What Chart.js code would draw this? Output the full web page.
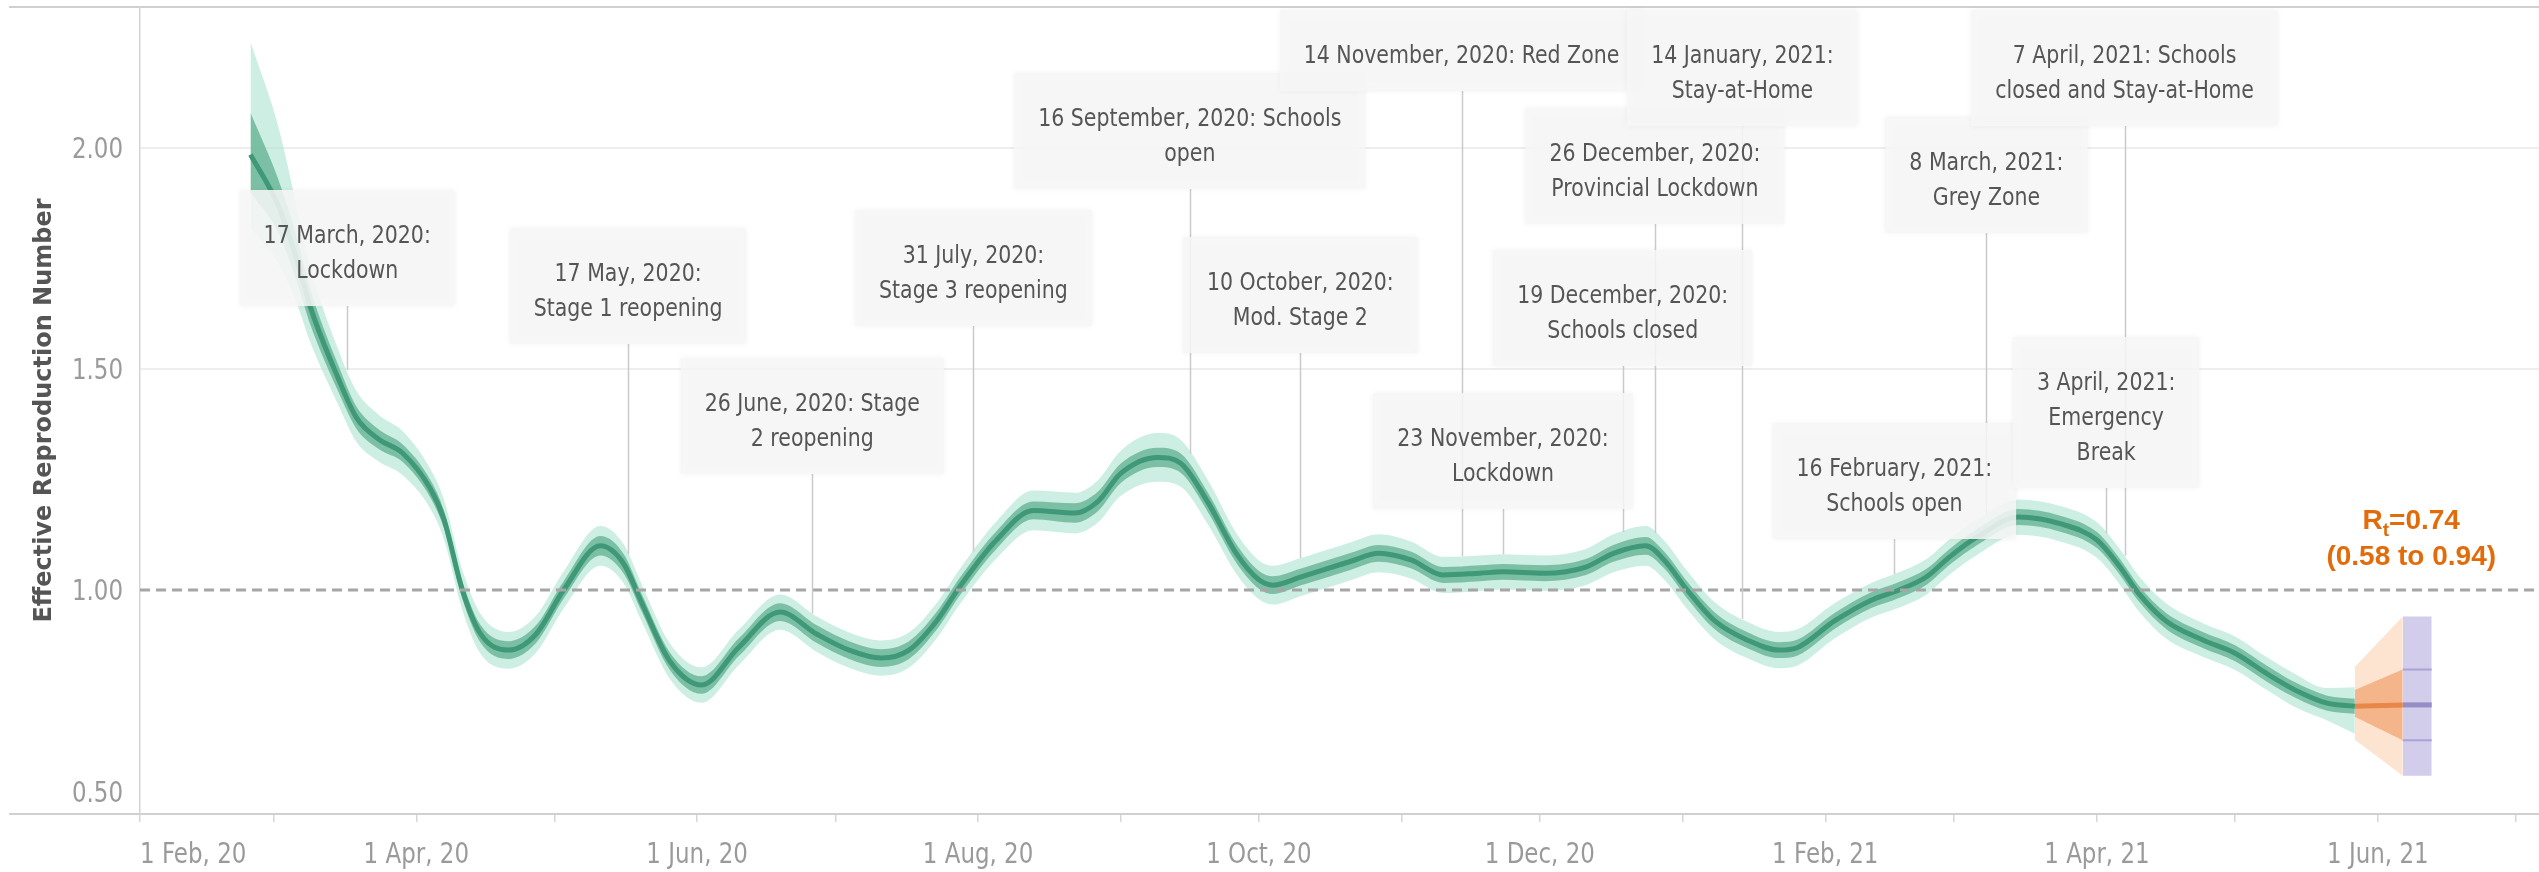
<!DOCTYPE html>
<html>
<head>
<meta charset="utf-8">
<title>Effective Reproduction Number</title>
<script src="https://cdn.jsdelivr.net/npm/chart.js@4.4.1/dist/chart.umd.min.js"></script>
<style>
  html, body { margin: 0; padding: 0; background: #fff; }
  canvas { display: block; }
</style>
</head>
<body>
<canvas id="rt" width="2539" height="872"></canvas>
<script>
// x values are days counted from 1 Feb 2020
const START = Date.UTC(2020, 1, 1);
function dayOf(iso) {
  const [y, m, d] = iso.split('-').map(Number);
  return (Date.UTC(y, m - 1, d) - START) / 86400000;
}

const days = [24, 30, 34, 37, 43, 47, 52, 57, 63, 66, 70, 74, 80, 86, 92, 100, 105, 109, 115, 122,
  130, 139, 147, 154, 161, 167, 173, 178, 186, 194, 203, 208, 213, 221, 226, 232, 238, 243, 246, 252,
  263, 269, 276, 283, 291, 296, 305, 314, 320, 327, 331, 336, 342, 349, 356, 360, 368, 376, 382, 388,
  393, 399, 408, 417, 425, 430, 434, 440, 448, 455, 462, 468, 475, 481];

const rt = [1.985, 1.87, 1.75, 1.64, 1.48, 1.39, 1.34, 1.31, 1.23, 1.16,
  1.00, 0.90, 0.864, 0.90, 1.00, 1.10, 1.06, 0.97, 0.84, 0.785,
  0.87, 0.95, 0.90, 0.864, 0.846, 0.864, 0.93, 1.007, 1.113, 1.18,
  1.174, 1.20, 1.264, 1.30, 1.287, 1.197, 1.084, 1.023, 1.011, 1.029,
  1.065, 1.083, 1.068, 1.034, 1.038, 1.041, 1.038, 1.052, 1.083, 1.10,
  1.068, 1.00, 0.93, 0.887, 0.864, 0.87, 0.93, 0.977, 1.00, 1.03,
  1.075, 1.12, 1.165, 1.15, 1.113, 1.052, 0.993, 0.93, 0.887, 0.857,
  0.81, 0.774, 0.744, 0.737];

const rtHi95 = [2.24, 2.05, 1.87, 1.73, 1.545, 1.45, 1.395, 1.36, 1.275, 1.205,
  1.045, 0.945, 0.905, 0.942, 1.042, 1.145, 1.104, 1.012, 0.88, 0.825,
  0.91, 0.99, 0.94, 0.904, 0.886, 0.904, 0.97, 1.047, 1.155, 1.225,
  1.22, 1.248, 1.315, 1.355, 1.34, 1.247, 1.13, 1.067, 1.055, 1.072,
  1.108, 1.126, 1.11, 1.075, 1.078, 1.081, 1.078, 1.093, 1.126, 1.145,
  1.112, 1.043, 0.972, 0.928, 0.905, 0.911, 0.97, 1.016, 1.04, 1.07,
  1.115, 1.16, 1.205, 1.19, 1.153, 1.092, 1.033, 0.97, 0.925, 0.895,
  0.847, 0.81, 0.778, 0.78];

const rtLo95 = [1.82, 1.74, 1.65, 1.56, 1.42, 1.335, 1.29, 1.26, 1.185, 1.115,
  0.955, 0.855, 0.822, 0.858, 0.958, 1.055, 1.016, 0.928, 0.80, 0.745,
  0.83, 0.91, 0.86, 0.824, 0.806, 0.824, 0.89, 0.967, 1.071, 1.135,
  1.128, 1.152, 1.213, 1.245, 1.234, 1.147, 1.038, 0.979, 0.967, 0.986,
  1.022, 1.04, 1.026, 0.993, 0.998, 1.001, 0.998, 1.011, 1.04, 1.055,
  1.024, 0.957, 0.888, 0.846, 0.823, 0.829, 0.89, 0.938, 0.96, 0.99,
  1.035, 1.08, 1.125, 1.11, 1.073, 1.012, 0.953, 0.89, 0.849, 0.819,
  0.773, 0.735, 0.705, 0.675];

const rtHi50 = [2.08, 1.93, 1.80, 1.68, 1.51, 1.415, 1.362, 1.33, 1.25, 1.18,
  1.02, 0.92, 0.884, 0.92, 1.02, 1.122, 1.082, 0.99, 0.86, 0.805,
  0.89, 0.97, 0.92, 0.884, 0.866, 0.884, 0.95, 1.027, 1.133, 1.20,
  1.196, 1.222, 1.286, 1.322, 1.309, 1.219, 1.105, 1.043, 1.031, 1.048,
  1.084, 1.102, 1.087, 1.052, 1.056, 1.059, 1.056, 1.07, 1.102, 1.12,
  1.087, 1.019, 0.949, 0.905, 0.882, 0.888, 0.948, 0.995, 1.018, 1.048,
  1.093, 1.138, 1.183, 1.168, 1.131, 1.07, 1.011, 0.948, 0.905, 0.875,
  0.828, 0.791, 0.761, 0.754];

const rtLo50 = [1.90, 1.81, 1.70, 1.60, 1.45, 1.365, 1.318, 1.29, 1.21, 1.14,
  0.98, 0.88, 0.844, 0.88, 0.98, 1.078, 1.038, 0.95, 0.82, 0.765,
  0.85, 0.93, 0.88, 0.844, 0.826, 0.844, 0.91, 0.987, 1.093, 1.16,
  1.152, 1.178, 1.242, 1.278, 1.265, 1.175, 1.063, 1.003, 0.991, 1.01,
  1.046, 1.064, 1.049, 1.016, 1.02, 1.023, 1.02, 1.034, 1.064, 1.08,
  1.049, 0.981, 0.911, 0.869, 0.846, 0.852, 0.912, 0.959, 0.982, 1.012,
  1.057, 1.102, 1.147, 1.132, 1.095, 1.034, 0.975, 0.912, 0.869, 0.839,
  0.792, 0.757, 0.727, 0.72];

// short projection from the last estimate to today's value
const projDays = [481, 491.4];
const projRt = [0.737, 0.74];
const projHi95 = [0.826, 0.94];
const projLo95 = [0.661, 0.58];
const projHi50 = [0.774, 0.82];
const projLo50 = [0.713, 0.66];

// current value with its intervals
const nowDays = [491.4, 497.7];
const nowRt = 0.74;
const nowLo95 = 0.58;
const nowHi95 = 0.94;
const nowLo50 = 0.66;
const nowHi50 = 0.82;

const yTicks = [0.5, 1.0, 1.5, 2.0];
const xTickDates = ['2020-02-01', '2020-03-01', '2020-04-01', '2020-05-01', '2020-06-01', '2020-07-01',
  '2020-08-01', '2020-09-01', '2020-10-01', '2020-11-01', '2020-12-01', '2021-01-01',
  '2021-02-01', '2021-03-01', '2021-04-01', '2021-05-01', '2021-06-01', '2021-07-01'];
const xTickLabels = ['1 Feb, 20', '', '1 Apr, 20', '', '1 Jun, 20', '', '1 Aug, 20', '', '1 Oct, 20', '',
  '1 Dec, 20', '', '1 Feb, 21', '', '1 Apr, 21', '', '1 Jun, 21', ''];

const eventDates = ['2020-03-17', '2020-05-17', '2020-06-26', '2020-07-31', '2020-09-16', '2020-10-10',
  '2020-11-14', '2020-11-23', '2020-12-19', '2020-12-26', '2021-01-14', '2021-02-16',
  '2021-03-08', '2021-04-03', '2021-04-07'];
const eventLabels = [
  ['17 March, 2020:', 'Lockdown'],
  ['17 May, 2020:', 'Stage 1 reopening'],
  ['26 June, 2020: Stage', '2 reopening'],
  ['31 July, 2020:', 'Stage 3 reopening'],
  ['16 September, 2020: Schools', 'open'],
  ['10 October, 2020:', 'Mod. Stage 2'],
  ['14 November, 2020: Red Zone'],
  ['23 November, 2020:', 'Lockdown'],
  ['19 December, 2020:', 'Schools closed'],
  ['26 December, 2020:', 'Provincial Lockdown'],
  ['14 January, 2021:', 'Stay-at-Home'],
  ['16 February, 2021:', 'Schools open'],
  ['8 March, 2021:', 'Grey Zone'],
  ['3 April, 2021:', 'Emergency', 'Break'],
  ['7 April, 2021: Schools', 'closed and Stay-at-Home']
];
// top edge of each callout box, in pixels
const boxTops = [190, 228, 358, 210, 73, 237, 10, 393, 250, 108, 10, 423, 117, 337, 10];

const FONT = '"DejaVu Sans", sans-serif';
const SQUEEZE = 0.82;   // narrow the label face horizontally
const X_MAX = 521;

function pts(xs, ys) { return xs.map((x, i) => ({ x: x, y: ys[i] })); }
function flat(xs, v) { return xs.map(x => ({ x: x, y: v })); }
function interp(xs, ys, x) {
  for (let i = 1; i < xs.length; i++) {
    if (x <= xs[i]) {
      const t = (x - xs[i - 1]) / (xs[i] - xs[i - 1]);
      return ys[i - 1] + t * (ys[i] - ys[i - 1]);
    }
  }
  return ys[ys.length - 1];
}
function narrowWidth(ctx, s) { return ctx.measureText(s).width * SQUEEZE; }
function narrowText(ctx, s, x, y) {
  ctx.save();
  ctx.translate(x, y);
  ctx.scale(SQUEEZE, 1);
  ctx.textAlign = 'left';
  ctx.fillText(s, 0, 0);
  ctx.restore();
}

const none = 'rgba(0,0,0,0)';
function band(data, fill, color, order, smooth) {
  return {
    data: data, fill: fill, backgroundColor: color, borderColor: none, borderWidth: 1,
    pointRadius: 0, order: order, cubicInterpolationMode: smooth ? 'monotone' : 'default', tension: 0
  };
}
function line(data, color, width, order, smooth) {
  return {
    data: data, fill: false, borderColor: color, borderWidth: width, pointRadius: 0,
    order: order, cubicInterpolationMode: smooth ? 'monotone' : 'default', tension: 0
  };
}

const datasets = [
  Object.assign(line(flat([0, X_MAX], 1), '#a6a6a6', 3, 0, false), { borderDash: [10, 6] }),
  line(pts(days, rt), '#3f9878', 5, 1, true),
  band(pts(days, rtHi50), '+1', 'rgba(88,172,140,0.7)', 2, true),
  band(pts(days, rtLo50), false, none, 3, true),
  band(pts(days, rtHi95), '+1', 'rgba(172,226,206,0.6)', 4, true),
  band(pts(days, rtLo95), false, none, 5, true),
  line(pts(projDays, projRt), '#e9874a', 5, 1, false),
  band(pts(projDays, projHi50), '+1', 'rgba(239,150,92,0.6)', 2, false),
  band(pts(projDays, projLo50), false, none, 3, false),
  band(pts(projDays, projHi95), '+1', 'rgba(250,206,172,0.55)', 4, false),
  band(pts(projDays, projLo95), false, none, 5, false),
  line(flat(nowDays, nowRt), '#958dc6', 5, 1, false),
  line(flat(nowDays, nowHi50), '#aaa4d4', 2, 2, false),
  line(flat(nowDays, nowLo50), '#aaa4d4', 2, 2, false),
  band(flat(nowDays, nowHi95), '+1', 'rgba(184,178,222,0.65)', 4, false),
  band(flat(nowDays, nowLo95), false, none, 5, false)
];

// light frame lines above and below the plot, as wide as the page
const frame = {
  id: 'frame',
  beforeDraw(chart) {
    const { ctx, chartArea: a } = chart;
    ctx.save();
    ctx.fillStyle = '#fff';
    ctx.fillRect(0, 0, chart.width, chart.height);
    ctx.strokeStyle = '#d0d0d0';
    ctx.lineWidth = 2;
    ctx.beginPath();
    ctx.moveTo(9, a.top); ctx.lineTo(chart.width, a.top);
    ctx.moveTo(9, a.bottom); ctx.lineTo(a.left, a.bottom);
    ctx.stroke();
    ctx.restore();
  }
};

// tick labels in the narrow face; the first date and the lowest value are kept inside the plot
const axisLabels = {
  id: 'axisLabels',
  afterDraw(chart) {
    const { ctx, chartArea: a } = chart;
    const xs = chart.scales.x, ys = chart.scales.y;
    ctx.save();
    ctx.fillStyle = '#9a9a9a';
    ctx.font = '28px ' + FONT;
    ctx.textBaseline = 'alphabetic';
    xs.ticks.forEach((t, i) => {
      const s = xTickLabels[i];
      if (!s) return;
      const w = narrowWidth(ctx, s);
      const x = Math.max(xs.getPixelForValue(t.value) - w / 2, a.left);
      narrowText(ctx, s, x, a.bottom + 49);
    });
    ys.ticks.forEach(t => {
      const s = t.value.toFixed(2);
      const w = narrowWidth(ctx, s);
      const y = Math.min(ys.getPixelForValue(t.value) + 10, a.bottom - 12);
      narrowText(ctx, s, a.left - 17 - w, y);
    });
    ctx.restore();
  }
};

// event callouts with leader lines down to the curve, plus the current value label
const callouts = {
  id: 'callouts',
  afterDatasetsDraw(chart) {
    const { ctx } = chart;
    const xs = chart.scales.x, ys = chart.scales.y;
    ctx.save();
    ctx.font = '25px ' + FONT;
    const boxes = eventDates.map((iso, i) => {
      const d = dayOf(iso);
      const lines = eventLabels[i];
      const w = Math.max(...lines.map(s => narrowWidth(ctx, s))) + 48;
      const h = 46 + 35 * lines.length;
      return { d: d, x: xs.getPixelForValue(d), w: w, h: h, top: boxTops[i], lines: lines };
    });

    ctx.strokeStyle = '#cacaca';
    ctx.lineWidth = 1.5;
    boxes.forEach(b => {
      const x = Math.round(b.x) + 0.5;
      ctx.beginPath();
      ctx.moveTo(x, b.top + b.h);
      ctx.lineTo(x, ys.getPixelForValue(interp(days, rtHi95, b.d)));
      ctx.stroke();
    });

    boxes.forEach(b => {
      ctx.save();
      ctx.shadowColor = 'rgba(0,0,0,0.06)';
      ctx.shadowBlur = 6;
      ctx.fillStyle = 'rgba(247,247,247,0.86)';
      ctx.fillRect(b.x - b.w / 2, b.top, b.w, b.h);
      ctx.restore();
    });

    ctx.fillStyle = '#555';
    ctx.textBaseline = 'alphabetic';
    boxes.forEach(b => {
      b.lines.forEach((s, k) => {
        const w = narrowWidth(ctx, s);
        narrowText(ctx, s, b.x - w / 2, b.top + 53 + 35 * k);
      });
    });

    // Rt label above the current value
    const cx = xs.getPixelForValue((nowDays[0] + nowDays[1]) / 2) - 6;
    const yTop = ys.getPixelForValue(nowHi95);
    const big = 'bold 28px "Liberation Sans", Arial, sans-serif';
    const small = 'bold 19px "Liberation Sans", Arial, sans-serif';
    const tail = '=' + nowRt.toFixed(2);
    ctx.fillStyle = '#e26b0a';
    ctx.font = big;
    const wR = ctx.measureText('R').width;
    const wTail = ctx.measureText(tail).width;
    ctx.font = small;
    const wT = ctx.measureText('t').width;
    const x0 = cx - (wR + wT + wTail) / 2;
    const base1 = yTop - 88;
    ctx.textAlign = 'left';
    ctx.font = big;
    ctx.fillText('R', x0, base1);
    ctx.font = small;
    ctx.fillText('t', x0 + wR, base1 + 7);
    ctx.font = big;
    ctx.fillText(tail, x0 + wR + wT, base1);
    ctx.textAlign = 'center';
    ctx.fillText('(' + nowLo95.toFixed(2) + ' to ' + nowHi95.toFixed(2) + ')', cx, yTop - 52);
    ctx.restore();
  }
};

new Chart(document.getElementById('rt'), {
  type: 'line',
  data: { datasets: datasets },
  options: {
    responsive: false,
    animation: false,
    events: [],
    layout: { padding: { top: 7, left: 0, right: 0, bottom: 0 } },
    plugins: { legend: { display: false }, tooltip: { enabled: false } },
    scales: {
      x: {
        type: 'linear',
        min: 0,
        max: X_MAX,
        offset: false,
        afterBuildTicks: s => { s.ticks = xTickDates.map(t => ({ value: dayOf(t) })); },
        afterFit: s => { s.height = 58; s.paddingLeft = 0; s.paddingRight = 0; },
        ticks: { display: false, autoSkip: false, maxRotation: 0 },
        grid: { drawOnChartArea: false, drawTicks: true, tickLength: 8, color: '#d6d6d6', lineWidth: 1.5 },
        border: { display: true, color: '#d0d0d0', width: 2 }
      },
      y: {
        min: 0.4932,
        max: 2.319,
        afterBuildTicks: s => { s.ticks = yTicks.map(v => ({ value: v })); },
        afterFit: s => { s.width = 140; s.paddingTop = 0; s.paddingBottom = 0; },
        ticks: { display: false },
        grid: {
          drawTicks: false,
          lineWidth: 2,
          color: c => (c.tick && (c.tick.value === 1.5 || c.tick.value === 2)) ? '#eeeeee' : none
        },
        border: { display: true, color: '#d4d4d4', width: 1.5 },
        title: {
          display: true,
          text: 'Effective Reproduction Number',
          color: '#555',
          font: { family: FONT, weight: 'bold', size: 24 },
          padding: { top: 30, bottom: 0 }
        }
      }
    }
  },
  plugins: [frame, callouts, axisLabels]
});
</script>
</body>
</html>
